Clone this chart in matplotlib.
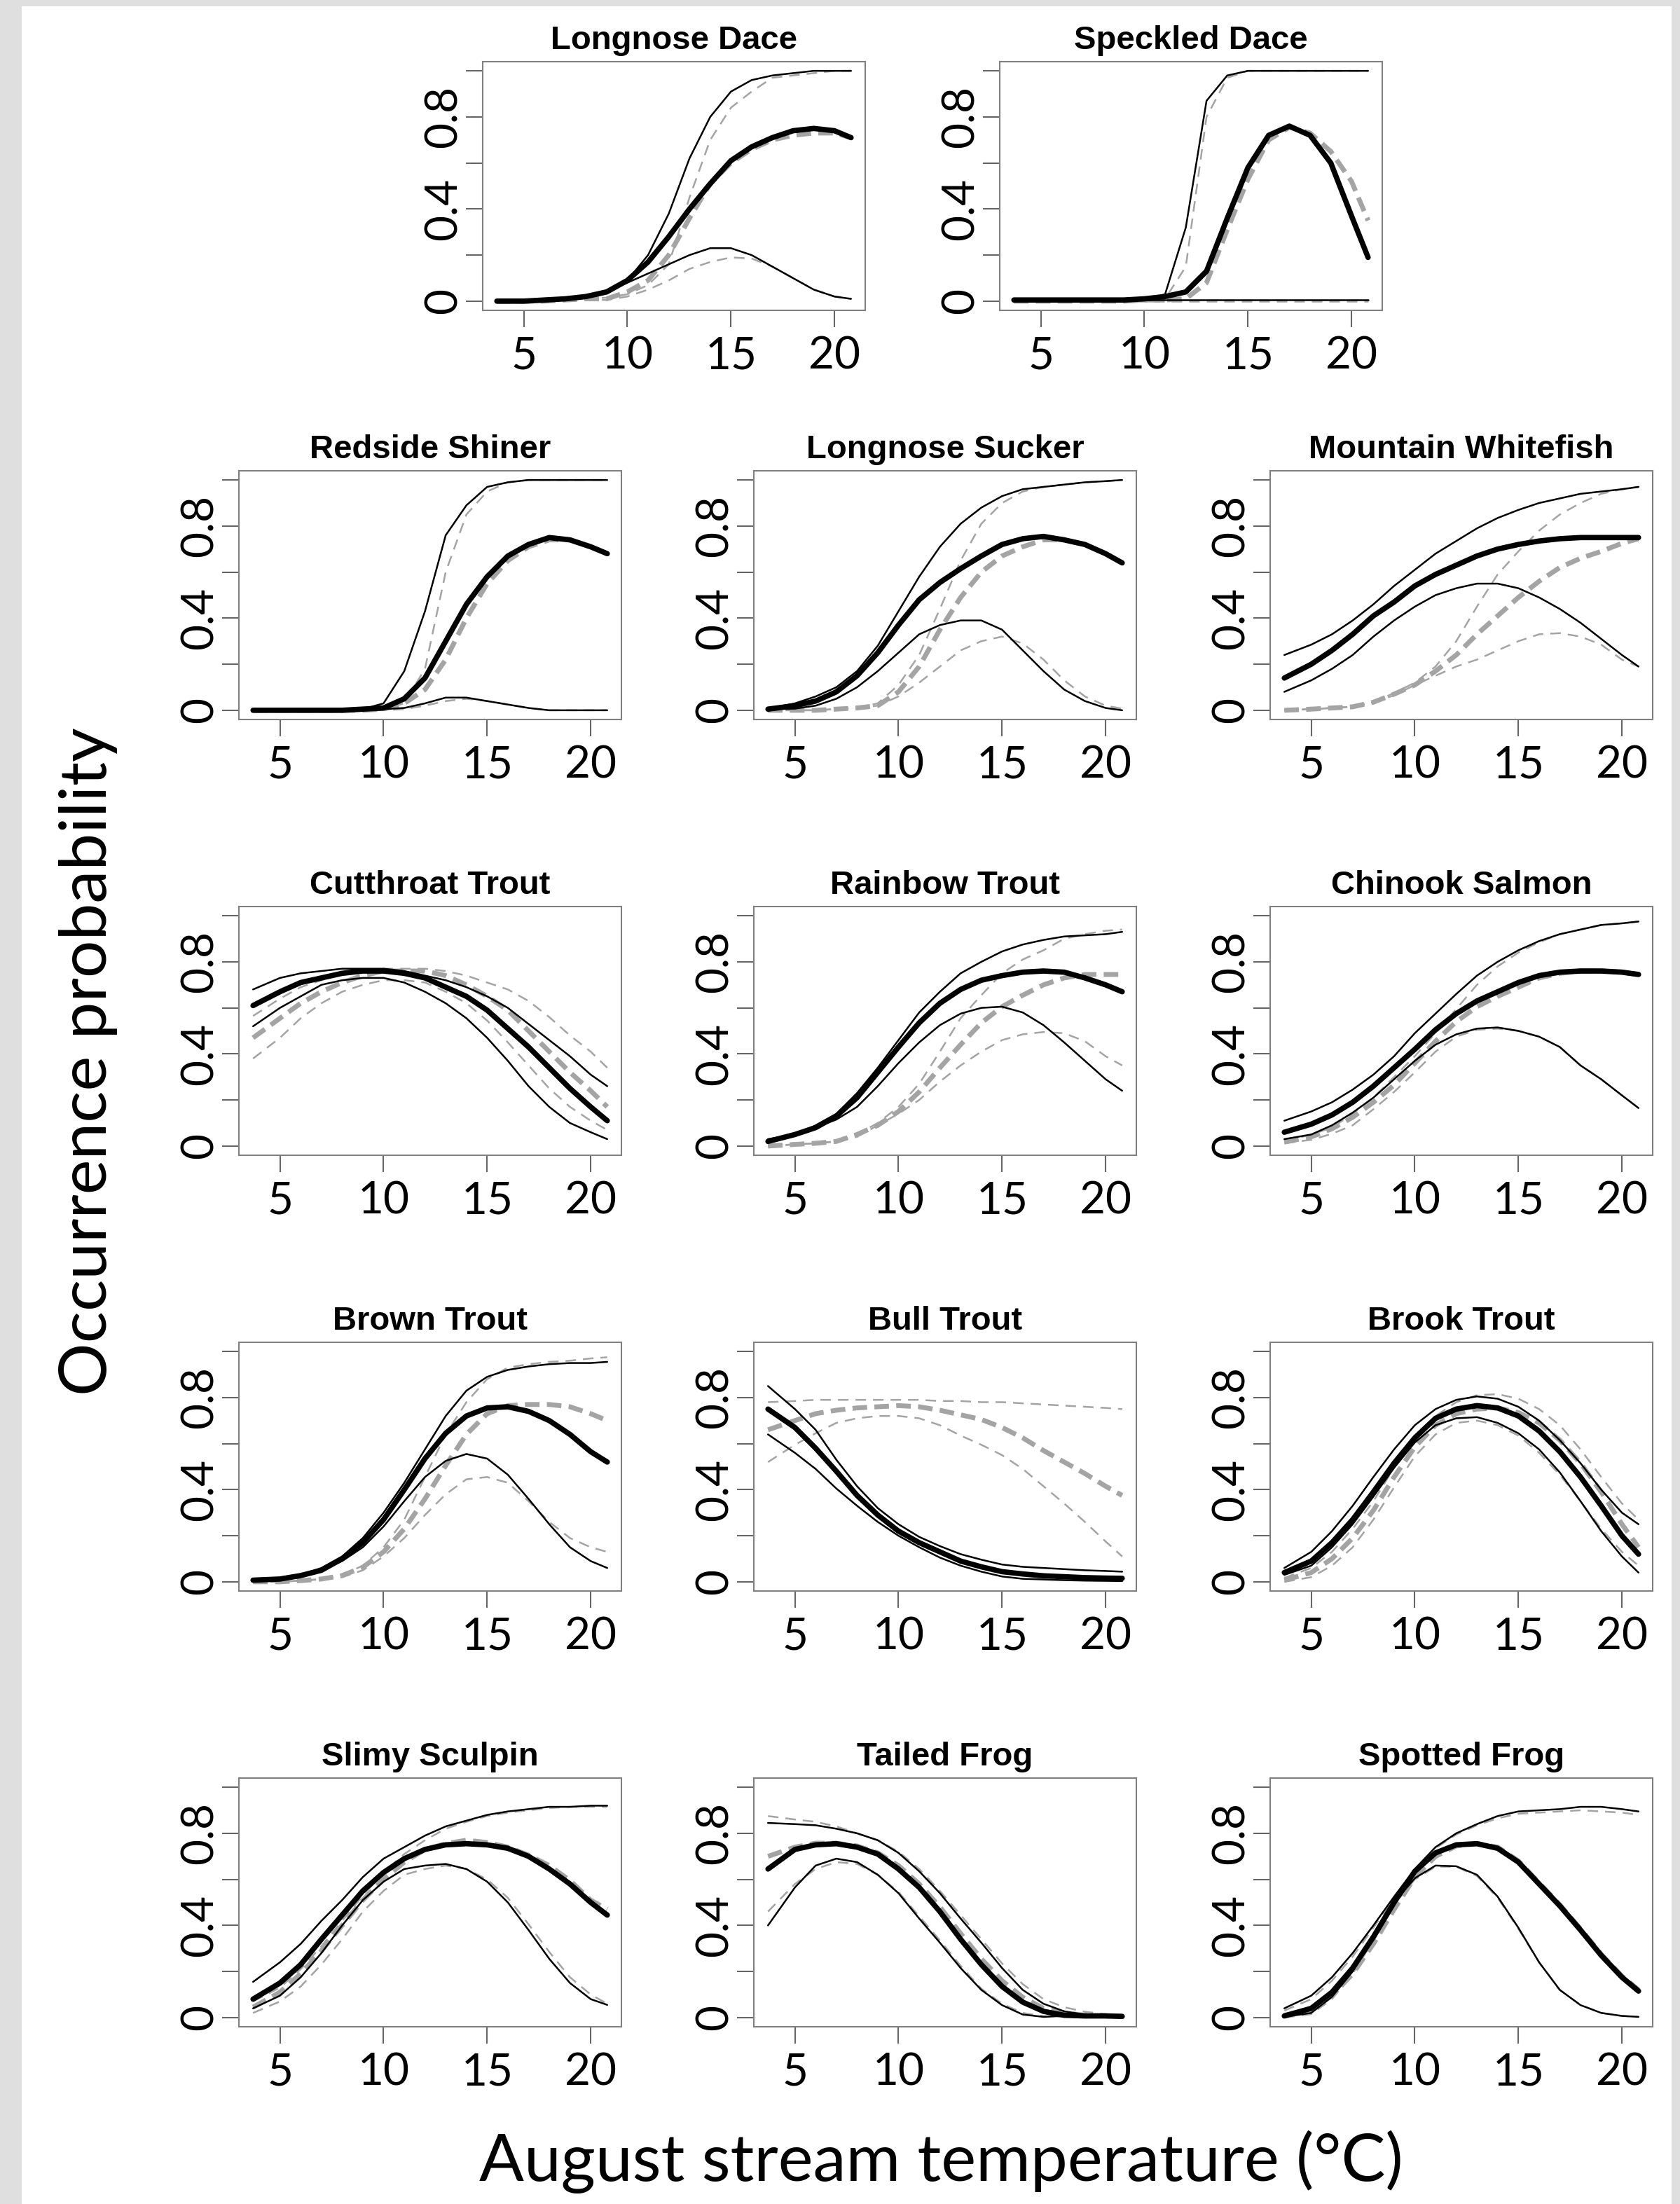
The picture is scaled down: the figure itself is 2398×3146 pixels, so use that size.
import matplotlib.pyplot as plt
from matplotlib.patches import Rectangle

# temperature grid (deg C) shared by every curve
X = [3.7, 5, 6, 7, 8, 9, 10, 11, 12, 13, 14, 15, 16, 17, 18, 19, 20, 20.8]

# hi/fit/lo = black solid curves, ghi/gfit/glo = grey dashed curves
LONGNOSE_DACE = dict(
    hi=[0.0, 0.0, 0.005, 0.01, 0.02, 0.045, 0.09, 0.20, 0.38, 0.62, 0.80, 0.91, 0.96, 0.98, 0.99, 1.0, 1.0, 1.0],
    fit=[0.0, 0.0, 0.005, 0.01, 0.02, 0.04, 0.09, 0.17, 0.28, 0.40, 0.51, 0.61, 0.67, 0.71, 0.74, 0.75, 0.74, 0.71],
    lo=[0.0, 0.0, 0.005, 0.01, 0.02, 0.04, 0.08, 0.12, 0.16, 0.20, 0.23, 0.23, 0.20, 0.15, 0.10, 0.05, 0.02, 0.01],
    ghi=[0.0, 0.0, 0.0, 0.005, 0.01, 0.015, 0.03, 0.07, 0.16, 0.45, 0.70, 0.84, 0.91, 0.97, 0.98, 0.99, 1.0, 1.0],
    gfit=[0.0, 0.0, 0.0, 0.005, 0.01, 0.01, 0.04, 0.09, 0.20, 0.36, 0.51, 0.60, 0.66, 0.70, 0.72, 0.73, 0.73, 0.71],
    glo=[0.0, 0.0, 0.0, 0.005, 0.005, 0.005, 0.02, 0.05, 0.09, 0.14, 0.17, 0.19, 0.185, 0.15, 0.10, 0.05, 0.02, 0.01],
)
SPECKLED_DACE = dict(
    hi=[0.0, 0.0, 0.0, 0.0, 0.0, 0.0, 0.005, 0.03, 0.32, 0.87, 0.98, 1.0, 1.0, 1.0, 1.0, 1.0, 1.0, 1.0],
    fit=[0.005, 0.005, 0.005, 0.005, 0.005, 0.005, 0.01, 0.02, 0.04, 0.13, 0.36, 0.58, 0.72, 0.76, 0.72, 0.60, 0.37, 0.19],
    lo=[0.005, 0.005, 0.005, 0.005, 0.005, 0.005, 0.005, 0.005, 0.005, 0.005, 0.005, 0.005, 0.005, 0.005, 0.005, 0.005, 0.005, 0.005],
    ghi=[0.0, 0.0, 0.0, 0.0, 0.0, 0.0, 0.0, 0.01, 0.15, 0.80, 0.97, 1.0, 1.0, 1.0, 1.0, 1.0, 1.0, 1.0],
    gfit=[0.0, 0.0, 0.0, 0.0, 0.0, 0.0, 0.005, 0.005, 0.01, 0.08, 0.31, 0.53, 0.70, 0.755, 0.73, 0.65, 0.52, 0.35],
    glo=[0.0, 0.0, 0.0, 0.0, 0.0, 0.0, 0.0, 0.0, 0.0, 0.0, 0.0, 0.0, 0.0, 0.0, 0.0, 0.0, 0.0, 0.0],
)
REDSIDE_SHINER = dict(
    hi=[0.0, 0.0, 0.0, 0.0, 0.0, 0.005, 0.03, 0.17, 0.43, 0.76, 0.89, 0.97, 0.99, 1.0, 1.0, 1.0, 1.0, 1.0],
    fit=[0.0, 0.0, 0.0, 0.0, 0.0, 0.005, 0.01, 0.05, 0.14, 0.30, 0.46, 0.58, 0.67, 0.72, 0.75, 0.74, 0.71, 0.68],
    lo=[0.0, 0.0, 0.0, 0.0, 0.0, 0.0, 0.005, 0.01, 0.03, 0.055, 0.055, 0.04, 0.025, 0.01, 0.0, 0.0, 0.0, 0.0],
    ghi=[0.0, 0.0, 0.0, 0.0, 0.0, 0.0, 0.005, 0.03, 0.18, 0.60, 0.85, 0.95, 0.99, 1.0, 1.0, 1.0, 1.0, 1.0],
    gfit=[0.0, 0.0, 0.0, 0.0, 0.0, 0.0, 0.005, 0.03, 0.09, 0.22, 0.40, 0.55, 0.65, 0.71, 0.74, 0.74, 0.71, 0.68],
    glo=[0.0, 0.0, 0.0, 0.0, 0.0, 0.0, 0.0, 0.005, 0.02, 0.04, 0.05, 0.04, 0.025, 0.01, 0.0, 0.0, 0.0, 0.0],
)
LONGNOSE_SUCKER = dict(
    hi=[0.007, 0.03, 0.06, 0.10, 0.17, 0.28, 0.43, 0.58, 0.71, 0.81, 0.88, 0.93, 0.96, 0.97, 0.98, 0.99, 0.995, 1.0],
    fit=[0.005, 0.02, 0.04, 0.08, 0.15, 0.25, 0.37, 0.48, 0.555, 0.615, 0.67, 0.72, 0.745, 0.755, 0.74, 0.72, 0.68, 0.64],
    lo=[0.005, 0.007, 0.02, 0.05, 0.10, 0.17, 0.25, 0.33, 0.37, 0.39, 0.39, 0.35, 0.26, 0.17, 0.09, 0.04, 0.01, 0.0],
    ghi=[0.0, 0.0, 0.0, 0.005, 0.01, 0.03, 0.11, 0.24, 0.44, 0.65, 0.81, 0.90, 0.95, 0.97, 0.98, 0.99, 0.995, 1.0],
    gfit=[0.0, 0.0, 0.0, 0.005, 0.01, 0.02, 0.08, 0.19, 0.35, 0.49, 0.60, 0.67, 0.71, 0.74, 0.74, 0.72, 0.68, 0.64],
    glo=[0.0, 0.0, 0.0, 0.005, 0.01, 0.02, 0.06, 0.12, 0.19, 0.26, 0.30, 0.32, 0.29, 0.22, 0.13, 0.06, 0.02, 0.007],
)
MOUNTAIN_WHITEFISH = dict(
    hi=[0.24, 0.285, 0.33, 0.39, 0.46, 0.54, 0.61, 0.68, 0.735, 0.79, 0.835, 0.87, 0.90, 0.92, 0.94, 0.95, 0.96, 0.97],
    fit=[0.14, 0.20, 0.26, 0.33, 0.41, 0.47, 0.54, 0.59, 0.63, 0.67, 0.70, 0.72, 0.735, 0.745, 0.75, 0.75, 0.75, 0.75],
    lo=[0.08, 0.13, 0.18, 0.24, 0.32, 0.39, 0.45, 0.50, 0.53, 0.55, 0.55, 0.53, 0.49, 0.44, 0.38, 0.31, 0.24, 0.19],
    ghi=[0.0, 0.005, 0.01, 0.015, 0.035, 0.075, 0.12, 0.19, 0.30, 0.45, 0.59, 0.69, 0.78, 0.85, 0.90, 0.94, 0.96, 0.97],
    gfit=[0.0, 0.005, 0.01, 0.015, 0.035, 0.07, 0.11, 0.17, 0.24, 0.33, 0.41, 0.49, 0.56, 0.62, 0.66, 0.69, 0.725, 0.745],
    glo=[0.0, 0.005, 0.01, 0.015, 0.035, 0.065, 0.11, 0.15, 0.19, 0.22, 0.26, 0.30, 0.33, 0.335, 0.32, 0.285, 0.22, 0.19],
)
CUTTHROAT_TROUT = dict(
    hi=[0.68, 0.73, 0.75, 0.76, 0.77, 0.77, 0.77, 0.76, 0.74, 0.72, 0.69, 0.65, 0.60, 0.53, 0.46, 0.39, 0.31, 0.26],
    fit=[0.61, 0.67, 0.71, 0.73, 0.75, 0.76, 0.76, 0.75, 0.73, 0.69, 0.65, 0.59, 0.51, 0.43, 0.34, 0.25, 0.17, 0.11],
    lo=[0.52, 0.60, 0.65, 0.70, 0.72, 0.73, 0.73, 0.71, 0.67, 0.62, 0.555, 0.47, 0.37, 0.26, 0.17, 0.10, 0.06, 0.03],
    ghi=[0.565, 0.64, 0.69, 0.72, 0.75, 0.765, 0.77, 0.77, 0.77, 0.76, 0.74, 0.71, 0.68, 0.63, 0.56, 0.48, 0.41, 0.34],
    gfit=[0.47, 0.555, 0.62, 0.67, 0.71, 0.74, 0.76, 0.76, 0.76, 0.74, 0.70, 0.65, 0.59, 0.50, 0.41, 0.32, 0.24, 0.17],
    glo=[0.38, 0.47, 0.555, 0.62, 0.67, 0.70, 0.72, 0.72, 0.71, 0.67, 0.62, 0.545, 0.45, 0.35, 0.25, 0.17, 0.11, 0.07],
)
RAINBOW_TROUT = dict(
    hi=[0.03, 0.05, 0.09, 0.14, 0.23, 0.34, 0.46, 0.58, 0.67, 0.75, 0.80, 0.845, 0.875, 0.895, 0.91, 0.915, 0.92, 0.93],
    fit=[0.02, 0.05, 0.08, 0.13, 0.21, 0.32, 0.43, 0.535, 0.62, 0.68, 0.72, 0.74, 0.755, 0.76, 0.755, 0.73, 0.70, 0.67],
    lo=[0.017, 0.05, 0.08, 0.115, 0.17, 0.26, 0.36, 0.45, 0.525, 0.575, 0.60, 0.605, 0.58, 0.525, 0.45, 0.37, 0.29, 0.24],
    ghi=[0.0, 0.007, 0.012, 0.02, 0.05, 0.10, 0.17, 0.27, 0.41, 0.555, 0.655, 0.75, 0.81, 0.85, 0.90, 0.92, 0.935, 0.94],
    gfit=[0.0, 0.007, 0.012, 0.02, 0.05, 0.09, 0.15, 0.235, 0.34, 0.44, 0.535, 0.605, 0.655, 0.70, 0.73, 0.745, 0.745, 0.745],
    glo=[0.0, 0.007, 0.012, 0.02, 0.04, 0.09, 0.14, 0.20, 0.28, 0.35, 0.41, 0.46, 0.485, 0.495, 0.49, 0.455, 0.39, 0.35],
)
CHINOOK_SALMON = dict(
    hi=[0.11, 0.15, 0.19, 0.245, 0.31, 0.39, 0.49, 0.575, 0.66, 0.74, 0.80, 0.85, 0.89, 0.92, 0.94, 0.96, 0.967, 0.975],
    fit=[0.06, 0.095, 0.135, 0.19, 0.26, 0.34, 0.42, 0.505, 0.575, 0.63, 0.67, 0.71, 0.74, 0.755, 0.76, 0.76, 0.755, 0.745],
    lo=[0.03, 0.05, 0.09, 0.145, 0.21, 0.29, 0.37, 0.44, 0.485, 0.51, 0.515, 0.50, 0.475, 0.43, 0.35, 0.29, 0.22, 0.165],
    ghi=[0.02, 0.05, 0.08, 0.14, 0.21, 0.30, 0.39, 0.49, 0.595, 0.70, 0.78, 0.84, 0.885, 0.92, 0.94, 0.96, 0.967, 0.975],
    gfit=[0.017, 0.04, 0.075, 0.125, 0.19, 0.265, 0.36, 0.455, 0.54, 0.605, 0.65, 0.69, 0.73, 0.75, 0.76, 0.76, 0.755, 0.745],
    glo=[0.012, 0.027, 0.053, 0.09, 0.16, 0.235, 0.32, 0.41, 0.475, 0.505, 0.51, 0.50, 0.475, 0.43, 0.35, 0.29, 0.22, 0.165],
)
BROWN_TROUT = dict(
    hi=[0.012, 0.017, 0.03, 0.06, 0.11, 0.19, 0.30, 0.43, 0.575, 0.72, 0.83, 0.89, 0.92, 0.935, 0.945, 0.95, 0.95, 0.955],
    fit=[0.007, 0.012, 0.027, 0.05, 0.10, 0.17, 0.27, 0.40, 0.535, 0.645, 0.72, 0.755, 0.76, 0.74, 0.70, 0.64, 0.565, 0.52],
    lo=[0.007, 0.01, 0.025, 0.05, 0.09, 0.15, 0.24, 0.35, 0.455, 0.525, 0.555, 0.535, 0.465, 0.36, 0.25, 0.15, 0.09, 0.06],
    ghi=[0.0, 0.0, 0.005, 0.012, 0.03, 0.07, 0.15, 0.27, 0.455, 0.64, 0.78, 0.88, 0.93, 0.945, 0.955, 0.96, 0.97, 0.975],
    gfit=[0.0, 0.0, 0.005, 0.012, 0.027, 0.063, 0.13, 0.23, 0.36, 0.505, 0.64, 0.73, 0.765, 0.77, 0.77, 0.76, 0.73, 0.70],
    glo=[0.0, 0.0, 0.005, 0.01, 0.02, 0.05, 0.11, 0.19, 0.29, 0.38, 0.445, 0.455, 0.43, 0.35, 0.26, 0.19, 0.15, 0.13],
)
BULL_TROUT = dict(
    hi=[0.85, 0.75, 0.66, 0.53, 0.415, 0.32, 0.25, 0.195, 0.155, 0.12, 0.096, 0.075, 0.065, 0.06, 0.055, 0.05, 0.047, 0.044],
    fit=[0.75, 0.67, 0.58, 0.48, 0.375, 0.29, 0.22, 0.17, 0.13, 0.09, 0.065, 0.044, 0.034, 0.026, 0.022, 0.018, 0.016, 0.015],
    lo=[0.64, 0.56, 0.49, 0.405, 0.33, 0.26, 0.20, 0.15, 0.105, 0.07, 0.044, 0.023, 0.013, 0.01, 0.007, 0.005, 0.004, 0.003],
    ghi=[0.78, 0.785, 0.79, 0.79, 0.79, 0.79, 0.79, 0.79, 0.785, 0.785, 0.78, 0.78, 0.775, 0.77, 0.765, 0.76, 0.755, 0.75],
    gfit=[0.66, 0.70, 0.73, 0.745, 0.755, 0.76, 0.765, 0.76, 0.745, 0.725, 0.705, 0.67, 0.625, 0.57, 0.52, 0.47, 0.415, 0.375],
    glo=[0.52, 0.595, 0.645, 0.69, 0.71, 0.72, 0.72, 0.71, 0.68, 0.635, 0.595, 0.55, 0.49, 0.415, 0.34, 0.26, 0.175, 0.11],
)
BROOK_TROUT = dict(
    hi=[0.06, 0.13, 0.22, 0.33, 0.455, 0.575, 0.68, 0.75, 0.79, 0.805, 0.795, 0.76, 0.70, 0.615, 0.515, 0.40, 0.30, 0.25],
    fit=[0.04, 0.09, 0.17, 0.27, 0.39, 0.515, 0.625, 0.71, 0.75, 0.765, 0.755, 0.72, 0.655, 0.565, 0.455, 0.33, 0.20, 0.12],
    lo=[0.03, 0.07, 0.15, 0.25, 0.37, 0.495, 0.605, 0.68, 0.71, 0.715, 0.69, 0.645, 0.575, 0.475, 0.35, 0.22, 0.11, 0.04],
    ghi=[0.017, 0.06, 0.13, 0.23, 0.35, 0.495, 0.625, 0.72, 0.78, 0.81, 0.815, 0.795, 0.75, 0.68, 0.575, 0.455, 0.34, 0.27],
    gfit=[0.007, 0.04, 0.10, 0.19, 0.31, 0.455, 0.585, 0.68, 0.73, 0.75, 0.755, 0.735, 0.69, 0.615, 0.515, 0.39, 0.25, 0.15],
    glo=[0.0, 0.02, 0.07, 0.15, 0.27, 0.41, 0.545, 0.64, 0.69, 0.70, 0.68, 0.635, 0.56, 0.465, 0.35, 0.23, 0.13, 0.07],
)
SLIMY_SCULPIN = dict(
    hi=[0.155, 0.24, 0.32, 0.42, 0.51, 0.61, 0.69, 0.74, 0.79, 0.83, 0.855, 0.88, 0.895, 0.905, 0.915, 0.915, 0.92, 0.92],
    fit=[0.08, 0.15, 0.23, 0.34, 0.445, 0.55, 0.63, 0.69, 0.73, 0.75, 0.755, 0.75, 0.735, 0.70, 0.645, 0.58, 0.50, 0.445],
    lo=[0.04, 0.095, 0.175, 0.28, 0.40, 0.51, 0.59, 0.645, 0.66, 0.667, 0.645, 0.59, 0.50, 0.38, 0.255, 0.15, 0.08, 0.055],
    ghi=[0.07, 0.13, 0.21, 0.31, 0.42, 0.53, 0.63, 0.71, 0.77, 0.82, 0.85, 0.875, 0.89, 0.90, 0.91, 0.915, 0.915, 0.915],
    gfit=[0.045, 0.11, 0.19, 0.29, 0.40, 0.51, 0.60, 0.675, 0.73, 0.755, 0.77, 0.76, 0.74, 0.705, 0.66, 0.595, 0.51, 0.47],
    glo=[0.02, 0.07, 0.135, 0.23, 0.34, 0.46, 0.55, 0.62, 0.645, 0.66, 0.645, 0.60, 0.52, 0.405, 0.285, 0.175, 0.10, 0.06],
)
TAILED_FROG = dict(
    hi=[0.845, 0.84, 0.835, 0.82, 0.80, 0.77, 0.715, 0.635, 0.54, 0.43, 0.325, 0.215, 0.12, 0.06, 0.027, 0.013, 0.007, 0.004],
    fit=[0.645, 0.73, 0.75, 0.755, 0.74, 0.71, 0.645, 0.565, 0.46, 0.34, 0.23, 0.135, 0.067, 0.027, 0.01, 0.007, 0.007, 0.005],
    lo=[0.40, 0.565, 0.66, 0.69, 0.675, 0.62, 0.54, 0.43, 0.325, 0.215, 0.12, 0.054, 0.013, 0.003, 0.007, 0.01, 0.01, 0.007],
    ghi=[0.875, 0.86, 0.85, 0.83, 0.80, 0.77, 0.72, 0.645, 0.55, 0.445, 0.34, 0.235, 0.145, 0.08, 0.045, 0.025, 0.015, 0.01],
    gfit=[0.70, 0.74, 0.757, 0.757, 0.745, 0.715, 0.66, 0.58, 0.48, 0.365, 0.255, 0.16, 0.088, 0.04, 0.02, 0.01, 0.007, 0.005],
    glo=[0.46, 0.58, 0.645, 0.675, 0.667, 0.62, 0.545, 0.44, 0.335, 0.225, 0.125, 0.06, 0.02, 0.006, 0.003, 0.003, 0.003, 0.003],
)
SPOTTED_FROG = dict(
    hi=[0.04, 0.095, 0.175, 0.28, 0.40, 0.525, 0.645, 0.74, 0.80, 0.84, 0.875, 0.895, 0.90, 0.905, 0.915, 0.915, 0.905, 0.895],
    fit=[0.007, 0.04, 0.11, 0.215, 0.35, 0.50, 0.635, 0.715, 0.75, 0.755, 0.735, 0.675, 0.58, 0.485, 0.38, 0.27, 0.175, 0.115],
    lo=[0.003, 0.02, 0.09, 0.20, 0.35, 0.50, 0.605, 0.66, 0.657, 0.62, 0.525, 0.39, 0.24, 0.12, 0.054, 0.02, 0.007, 0.003],
    ghi=[0.03, 0.08, 0.16, 0.265, 0.39, 0.52, 0.64, 0.735, 0.795, 0.835, 0.865, 0.885, 0.89, 0.895, 0.90, 0.895, 0.89, 0.88],
    gfit=[0.01, 0.035, 0.095, 0.19, 0.32, 0.47, 0.61, 0.70, 0.745, 0.755, 0.74, 0.68, 0.585, 0.49, 0.385, 0.275, 0.18, 0.12],
    glo=[0.0, 0.015, 0.08, 0.19, 0.335, 0.49, 0.60, 0.655, 0.655, 0.615, 0.52, 0.385, 0.24, 0.12, 0.055, 0.02, 0.007, 0.003],
)

ROWS = [
    [("Longnose Dace", LONGNOSE_DACE), ("Speckled Dace", SPECKLED_DACE)],
    [("Redside Shiner", REDSIDE_SHINER), ("Longnose Sucker", LONGNOSE_SUCKER), ("Mountain Whitefish", MOUNTAIN_WHITEFISH)],
    [("Cutthroat Trout", CUTTHROAT_TROUT), ("Rainbow Trout", RAINBOW_TROUT), ("Chinook Salmon", CHINOOK_SALMON)],
    [("Brown Trout", BROWN_TROUT), ("Bull Trout", BULL_TROUT), ("Brook Trout", BROOK_TROUT)],
    [("Slimy Sculpin", SLIMY_SCULPIN), ("Tailed Frog", TAILED_FROG), ("Spotted Frog", SPOTTED_FROG)],
]

# layout in pixels of the 2398 x 3146 canvas
W, H = 2398, 3146
ROW_TOPS = [88, 672, 1294, 1916, 2538]
COL_LEFTS = [341, 1076, 1813]
ROW0_LEFTS = [689, 1427]
BOX_W, BOX_H = 546, 355

GREY = "#a4a4a4"
NUM_FONT = ["Lato", "DejaVu Sans"]

fig = plt.figure(figsize=(W / 100, H / 100), dpi=100)
fig.patch.set_facecolor("#dfdfdf")
fig.patches.append(Rectangle((31 / W, 0), (2386 - 31) / W, 1 - 9 / H,
                             transform=fig.transFigure, facecolor="white",
                             edgecolor="none", zorder=-10))

for r, row in enumerate(ROWS):
    lefts = ROW0_LEFTS if r == 0 else COL_LEFTS
    for (name, d), left in zip(row, lefts):
        top = ROW_TOPS[r]
        ax = fig.add_axes([left / W, 1 - (top + BOX_H) / H, BOX_W / W, BOX_H / H])
        ax.set_facecolor("white")

        # grey dashed model first, black solid model on top
        ax.plot(X, d["ghi"], color=GREY, lw=1.8, dashes=(6, 4))
        ax.plot(X, d["glo"], color=GREY, lw=1.8, dashes=(6, 4))
        ax.plot(X, d["gfit"], color=GREY, lw=5.0, dashes=(3, 1.5))
        ax.plot(X, d["hi"], color="black", lw=1.8, solid_capstyle="round")
        ax.plot(X, d["lo"], color="black", lw=1.8, solid_capstyle="round")
        ax.plot(X, d["fit"], color="black", lw=5.5, solid_capstyle="round")

        ax.margins(x=0.04)
        ax.set_ylim(-0.04, 1.04)
        ax.set_xticks([5, 10, 15, 20])
        ax.set_xticklabels(["5", "10", "15", "20"], family=NUM_FONT, fontsize=46)
        ax.set_yticks([0, 0.2, 0.4, 0.6, 0.8, 1.0])
        ax.set_yticklabels(["0", "", "0.4", "", "0.8", ""], family=NUM_FONT,
                           fontsize=46, rotation=90, va="center")
        ax.tick_params(axis="both", direction="out", length=17, width=1.5,
                       color="#666666")
        ax.tick_params(axis="x", pad=9)
        ax.tick_params(axis="y", pad=2)
        for sp in ax.spines.values():
            sp.set_color("#808080")
            sp.set_linewidth(1.5)
        ax.set_title(name, family=["Liberation Sans", "DejaVu Sans"],
                     fontweight="bold", fontsize=34, pad=13)

fig.text(1343 / W, 1 - 3113 / H, "August stream temperature (\u00b0C)",
         family=NUM_FONT, fontsize=68, ha="center", va="baseline")
fig.text(126 / W, 1 - 1515 / H, "Occurrence probability",
         family=NUM_FONT, fontsize=68, ha="center", va="center", rotation=90)

fig.savefig("out.png", dpi=100, facecolor=fig.get_facecolor())
